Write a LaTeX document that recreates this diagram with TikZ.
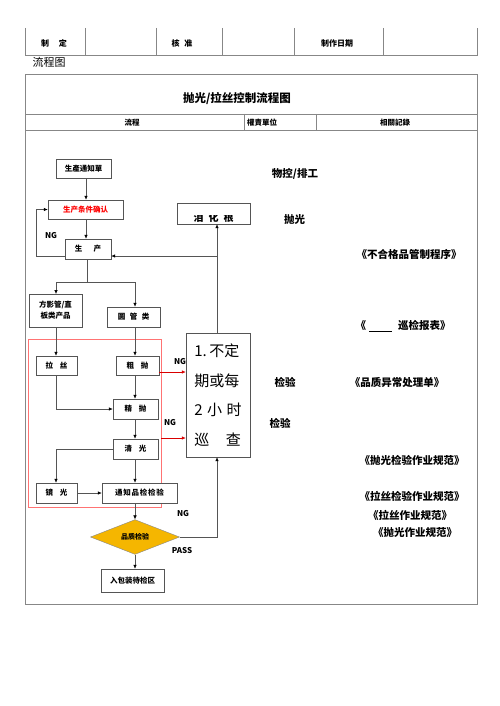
\documentclass[tikz,border=0pt]{standalone}
\usepackage{fontspec}
\setmainfont{Noto Sans CJK SC}
\usetikzlibrary{positioning, calc, arrows.meta, shapes.geometric}

\definecolor{linegray}{RGB}{85,85,85}
\definecolor{framegray}{RGB}{135,135,135}
\definecolor{checkgold}{RGB}{245,182,0}

\tikzset{
  procbox/.style={draw=linegray, fill=white, minimum height=20pt, inner sep=0pt},
  arr/.style={draw=linegray, line width=0.6pt, -{Latex[length=4pt,width=3.5pt,color=black]}},
  redarr/.style={draw=red!85!black, line width=0.6pt, -{Latex[length=4pt,width=3.5pt]}},
  reftext/.style={font=\fontsize{10.5}{12}\selectfont\bfseries},
  ngtext/.style={font=\fontsize{8}{9}\selectfont\bfseries}
}

\begin{document}
\begin{tikzpicture}[x=1pt, y=-1pt, every node/.style={font=\fontsize{7.5}{9}\selectfont\bfseries, inner sep=0pt}]

\useasboundingbox[fill=white] (0,0) rectangle (500,706);

% header table
\draw[framegray, line width=0.7pt] (25,28) -- (25,55) -- (477,55) -- (477,28);
\foreach \xs in {85,156,222,294,383}
  \draw[framegray, line width=0.7pt] (\xs,28) -- (\xs,55);
\node[font=\fontsize{8}{9}\selectfont\bfseries] (hmake) at (54,43) {制\hspace{1.2em}定};
\node[font=\fontsize{8}{9}\selectfont\bfseries] (hcheck) at (182,43) {核\hspace{0.6em}准};
\node[font=\fontsize{8}{9}\selectfont\bfseries] (hdate) at (337,43) {制作日期};
\node[font=\fontsize{11}{12}\selectfont] (flowtitle) at (49,62) {流程图};

% main frame
\draw[framegray, line width=0.8pt] (25,74) rectangle (477,604);
\draw[framegray, line width=0.7pt] (25,114) -- (477,114);
\draw[framegray, line width=0.7pt] (25,130) -- (477,130);
\draw[framegray, line width=0.7pt] (244,114) -- (244,130);
\draw[framegray, line width=0.7pt] (316,114) -- (316,130);
\node[font=\fontsize{11.5}{13}\selectfont\bfseries] (maintitle) at (237,99) {抛光/拉丝控制流程图};
\node (colflow) at (132,123) {流程};
\node (colduty) at (262,123) {權責單位};
\node (colrec) at (395,123) {相關記錄};

% column guides
\coordinate (colA) at (86,0);
\coordinate (colB) at (135,0);
\coordinate (colC) at (217,0);
\coordinate (ngturn) at (36,256);

% red zone
\node[draw=red!55, line width=0.7pt, minimum width=133pt, minimum height=168pt] (redzone) at (94.5,423) {};

% process boxes
\node[procbox, minimum width=55pt, minimum height=19pt] (notice) at (83.5,168.5) {生產通知單};
\node[procbox, minimum width=75pt, minimum height=19pt, text=red] (confirm) at (85.5,209.5) {生产条件确认};
\node[procbox, minimum width=46pt] (prod) at (88,249) {生\hspace{1.5em}产};
\node[procbox, minimum width=73pt, minimum height=21pt] (rework) at (213.5,213.5) {};
\begin{scope}
  \clip (177,215.5) rectangle (250,223);
  \node[font=\fontsize{10}{11}\selectfont\bfseries] (reworktext) at (213.5,217.5) {泪\hspace{0.5em}化\hspace{0.5em}根};
\end{scope}
\node[procbox, minimum width=53pt, minimum height=33pt, align=center, font=\fontsize{7.5}{11}\selectfont\bfseries] (shape) at (55.5,310.5) {方影管/直\\板类产品};
\node[procbox, minimum width=53pt] (round) at (133.5,317) {圆\hspace{0.6em}管\hspace{0.6em}类};
\node[procbox, minimum width=41pt, minimum height=19pt] (drawing) at (56.5,365.5) {拉\hspace{0.9em}丝};
\node[procbox, minimum width=43pt, minimum height=19pt] (rough) at (137.5,365.5) {粗\hspace{0.9em}抛};
\node[procbox, minimum width=45pt] (fine) at (135.5,409) {精\hspace{0.9em}抛};
\node[procbox, minimum width=45pt] (clean) at (135.5,449) {清\hspace{0.9em}光};
\node[procbox, minimum width=41pt] (mirror) at (56.5,493) {镜\hspace{0.9em}光};
\node[procbox, minimum width=75pt] (inform) at (139.5,493) {通\hspace{0.1em}知\hspace{0.1em}品\hspace{0.1em}检\hspace{0.1em}检\hspace{0.1em}验};
\node[procbox, minimum width=64pt, minimum height=124pt, align=left, font=\fontsize{15}{29.5}\selectfont] (patrol) at (218,395) {1.\,不定\\期或每\\2\hspace{0.3em}小\hspace{0.3em}时\\巡\hspace{1.1em}查};
\node[diamond, draw=framegray, fill=checkgold, minimum width=89pt, minimum height=30pt, inner sep=0pt, font=\fontsize{7}{8}\selectfont\bfseries] (check) at (135,537) {品质检验};
\node[procbox, minimum width=63pt, minimum height=23pt] (pack) at (132.5,580.5) {入包装待检区};

% connectors
\draw[arr] (notice.south -| colA) -- (confirm.north -| colA);
\draw[arr] (confirm.south -| colA) -- (prod.north -| colA);
\draw[arr] (prod.west |- ngturn) -- (ngturn) |- (confirm.west);
\draw[arr] (prod.south -| 87,0) -- (87,282) -| (56,294);
\draw[arr] (87,282) -| (round.north -| colB);
\draw[arr] (shape.south -| 56,0) -- (drawing.north -| 56,0);
\draw[arr] (round.south -| colB) -- (rough.north -| colB);
\draw[arr] (rough.south -| colB) -- (fine.north -| colB);
\draw[arr] (drawing.south -| 56,0) |- (fine.west);
\draw[arr] (fine.south -| colB) -- (clean.north -| colB);
\draw[arr] (clean.west) -| (mirror.north -| 56,0);
\draw[arr] (clean.south -| colB) -- (inform.north -| colB);
\draw[arr] (mirror.east) -- (inform.west);
\draw[arr] (inform.south -| colB) -- (check.north);
\draw[arr] (check.south) -- (pack.north -| check.south);
\draw[arr] (check.east) -| (patrol.south -| colC);
\draw[arr] (patrol.north -| colC) -- (rework.south -| colC);
\draw[arr] (colC |- ngturn) -- (prod.east |- ngturn);
\draw[redarr] ([yshift=-6.5pt]rough.east) -- (patrol.west |- 0,372);
\draw[redarr] (redzone.east |- 0,438) -- (patrol.west |- 0,438);

% NG / PASS labels
\node[ngtext] (ngloop) at (51,236) {NG};
\node[ngtext] (ngrough) at (180,362) {NG};
\node[ngtext] (ngclean) at (170,423) {NG};
\node[ngtext] (ngcheck) at (183,514) {NG};
\node[ngtext] (passcheck) at (182,551) {PASS};

% duty and record texts
\node[reftext] (dutyplan) at (295,174) {物控/排工};
\node[reftext] (dutypolish) at (294.5,220) {抛光};
\node[reftext] (dutyinsp) at (285,382) {检验};
\node[reftext] (dutyinsp2) at (280,423) {检验};
\node[reftext] (recng) at (409,254) {《不合格品管制程序》};
\node[reftext] (recpatrol) at (403,326) {《\hspace{3pt}\rule[-2.5pt]{23pt}{0.6pt}\hspace{6pt}巡检报表》};
\node[reftext] (recabn) at (397,382) {《品质异常处理单》};
\node[reftext] (recpolinsp) at (412,460) {《抛光检验作业规范》};
\node[reftext] (recdrawinsp) at (412,496) {《拉丝检验作业规范》};
\node[reftext] (recdraw) at (410,515) {《拉丝作业规范》};
\node[reftext] (recpol) at (415,533) {《抛光作业规范》};

\end{tikzpicture}
\end{document}
